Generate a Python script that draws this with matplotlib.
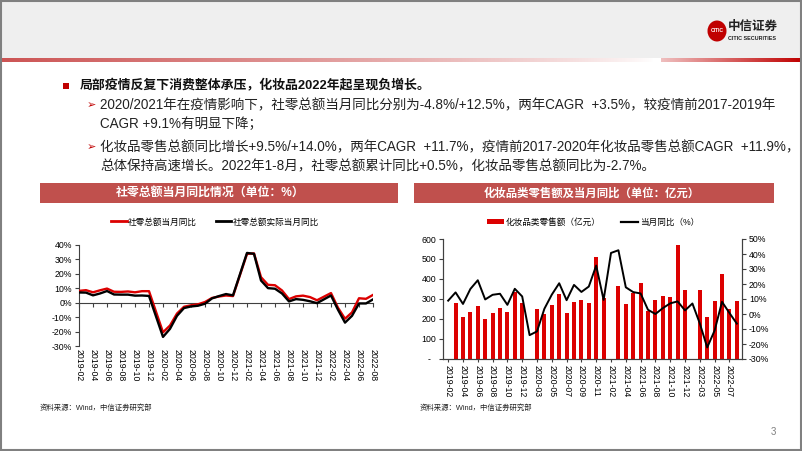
import matplotlib
matplotlib.use('Agg')
import matplotlib.pyplot as plt
import matplotlib.transforms as mtrans
from matplotlib.patches import Rectangle, Ellipse, Patch
from matplotlib.lines import Line2D
import numpy as np

W, H = 802, 451
FAM = ['Liberation Sans', 'Noto Sans CJK SC', 'DejaVu Sans']
plt.rcParams['font.family'] = FAM

# ---------------- data ----------------
months = ['2019-02', '2019-03', '2019-04', '2019-05', '2019-06', '2019-07', '2019-08', '2019-09', '2019-10', '2019-11', '2019-12',
          '2020-02', '2020-03', '2020-04', '2020-05', '2020-06', '2020-07', '2020-08', '2020-09', '2020-10', '2020-11', '2020-12',
          '2021-02', '2021-03', '2021-04', '2021-05', '2021-06', '2021-07', '2021-08', '2021-09', '2021-10', '2021-11', '2021-12',
          '2022-02', '2022-03', '2022-04', '2022-05', '2022-06', '2022-07', '2022-08']

retail_nominal = [8.2, 8.7, 7.2, 8.6, 9.8, 7.6, 7.5, 7.8, 7.2, 8.0, 8.0,
                  -20.5, -15.8, -7.5, -2.8, -1.8, -1.1, 0.5, 3.3, 4.3, 5.0, 4.6,
                  33.8, 34.2, 17.7, 12.4, 12.1, 8.5, 2.5, 4.4, 4.9, 3.9, 1.7,
                  6.7, -3.5, -11.1, -6.7, 3.1, 2.7, 5.4]
retail_real = [7.1, 7.0, 5.1, 6.4, 8.1, 5.7, 5.6, 5.6, 4.9, 5.0, 4.7,
               -23.7, -18.1, -9.1, -3.7, -2.6, -2.1, -0.7, 3.0, 4.6, 6.0, 5.1,
               34.5, 33.9, 15.4, 10.1, 9.7, 6.4, 0.9, 2.5, 2.0, 1.0, -0.3,
               5.0, -4.9, -13.8, -9.1, -0.5, -0.5, 2.3]

left_tick_labels = ['2019-02', '2019-04', '2019-06', '2019-08', '2019-10', '2019-12',
                    '2020-02', '2020-04', '2020-06', '2020-08', '2020-10', '2020-12',
                    '2021-02', '2021-04', '2021-06', '2021-08', '2021-10', '2021-12',
                    '2022-02', '2022-04', '2022-06', '2022-08']

cosmetics_sales = [None, 280, 210, 233, 265, 200, 232, 255, 233, 333, 280,
                   None, 250, 223, 270, 327, 230, 285, 296, 280, 510, 303,
                   None, 367, 275, 328, 380, 240, 293, 316, 310, 570, 343,
                   None, 345, 211, 290, 423, 252, 290]
cosmetics_yoy = [8.9, 14.4, 6.7, 16.7, 22.5, 9.7, 12.8, 13.5, 6.1, 16.8, 11.7,
                 -14.1, -11.6, 3.5, 12.9, 20.5, 9.2, 19.4, 14.7, 18.3, 32.3, 9.4,
                 40.7, 42.5, 17.8, 14.6, 13.7, 2.8, 0.0, 3.9, 7.1, 8.4, 2.4,
                 7.0, -6.3, -22.3, -11.0, 8.1, 0.7, -6.4]

RED = '#DC0000'
BAND = '#C0504D'
AXC = '#404040'

fig = plt.figure(figsize=(W / 100, H / 100), dpi=100)


def fx(x):
    return x / W


def fy(y):
    return 1 - y / H


# ---------------- slide decoration ----------------
fig.add_artist(Rectangle((0, fy(58)), 1, 58 / H, transform=fig.transFigure,
                         facecolor='#EFEFEF', edgecolor='none', zorder=0))
# gradient rule
gax = fig.add_axes([0, fy(62), 1, 4 / H])
gx = np.linspace(0, 1, 802)
left_c = np.array([0.80, 0.33, 0.33])
right_c = np.array([0.75, 0.0, 0.0])
img = np.ones((1, 802, 3))
for i, t in enumerate(gx):
    if t < 0.815:
        a = (1 - t / 0.815) ** 0.8
        img[0, i] = 1 - a * (1 - left_c)
    elif t < 0.825:
        img[0, i] = [1, 1, 1]
    else:
        a = (t - 0.825) / 0.175
        img[0, i] = 1 - (0.25 + 0.75 * a) * (1 - right_c)
gax.imshow(img, aspect='auto', extent=(0, 1, 0, 1))
gax.axis('off')

# border
fig.add_artist(Rectangle((0.001, 0.002), 0.998, 0.996, transform=fig.transFigure,
                         fill=False, edgecolor='#808080', lw=1.5, zorder=10))

# logo
fig.add_artist(Ellipse((fx(717), fy(31)), 19 / W, 21 / H, transform=fig.transFigure,
                       facecolor='#C00000', edgecolor='none'))
fig.text(fx(717), fy(31), 'CITIC', color='white', fontsize=3.6, ha='center', va='center',
         fontweight='bold')
fig.text(fx(728), fy(27), '中信证券', fontsize=9, fontweight='bold', ha='left', va='center',
         color='#222222')
fig.text(fx(728), fy(38), 'CITIC SECURITIES', fontsize=3.9, fontweight='bold', ha='left',
         va='center', color='#222222')

# heading bullets
fig.add_artist(Rectangle((fx(63), fy(89)), 6 / W, 6 / H, transform=fig.transFigure,
                         facecolor='#C00000', edgecolor='none'))
fig.text(fx(80), fy(86), '局部疫情反复下消费整体承压，化妆品2022年起呈现负增长。',
         fontsize=9.3, fontweight='bold', va='center', ha='left', color='#111111')

bullet_lines = [
    (105, True, '2020/2021年在疫情影响下，社零总额当月同比分别为-4.8%/+12.5%，两年CAGR  +3.5%，较疫情前2017-2019年'),
    (124, False, 'CAGR +9.1%有明显下降；'),
    (147, True, '化妆品零售总额同比增长+9.5%/+14.0%，两年CAGR  +11.7%，疫情前2017-2020年化妆品零售总额CAGR  +11.9%，'),
    (166, False, '总体保持高速增长。2022年1-8月，社零总额累计同比+0.5%，化妆品零售总额同比为-2.7%。'),
]
for yy, arrow, txt in bullet_lines:
    if arrow:
        fig.text(fx(87), fy(yy), '➢', fontsize=8, color='#C00000', va='center', ha='left',
                 family=['DejaVu Sans'])
    fig.text(fx(100), fy(yy), txt, fontsize=9.75, va='center', ha='left', color='#222222')

# chart title bands
fig.add_artist(Rectangle((fx(40), fy(203)), (398 - 40) / W, 20 / H, transform=fig.transFigure,
                         facecolor=BAND, edgecolor='none'))
fig.text(fx(210), fy(193), '社零总额当月同比情况（单位：%）', color='white', fontsize=8.6,
         fontweight='bold', ha='center', va='center')
fig.add_artist(Rectangle((fx(414), fy(203)), (774 - 414) / W, 20 / H, transform=fig.transFigure,
                         facecolor=BAND, edgecolor='none'))
fig.text(fx(592), fy(193), '化妆品类零售额及当月同比（单位：亿元）', color='white', fontsize=8.2,
         fontweight='bold', ha='center', va='center')

# ---------------- left chart ----------------
x_left = [(int(m[:4]) - 2019) * 12 + int(m[5:]) - 2 for m in months]
ax1 = fig.add_axes([fx(79), fy(346), (373 - 79) / W, (346 - 245) / H])
ax1.plot(x_left, retail_nominal, color=RED, lw=1.7, zorder=3, label='社零总额当月同比')
ax1.plot(x_left, retail_real, color='black', lw=1.7, zorder=4, label='社零总额实际当月同比')
ax1.set_xlim(0, 42)
ax1.set_ylim(-30, 40)
ax1.spines['top'].set_visible(False)
ax1.spines['right'].set_visible(False)
ax1.spines['bottom'].set_position(('data', 0))
for s in ('left', 'bottom'):
    ax1.spines[s].set_color(AXC)
    ax1.spines[s].set_linewidth(0.8)
ax1.set_yticks(range(-30, 41, 10))
ax1.set_yticklabels([f'{v}%' for v in range(-30, 41, 10)])
ax1.set_xticks(range(0, 43, 2))
ax1.tick_params(axis='x', labelbottom=False, length=3, width=0.8, color=AXC, direction='out')
ax1.tick_params(axis='y', labelsize=6.3, length=3, width=0.8, color=AXC, pad=2)
tr = mtrans.blended_transform_factory(ax1.transData, ax1.transAxes)
for pos, lab in zip(range(0, 43, 2), left_tick_labels):
    ax1.text(pos, -0.03, lab, transform=tr, rotation=-90, ha='center', va='top', fontsize=6.3)
ax1.legend(handles=[Line2D([], [], color=RED, lw=2), Line2D([], [], color='black', lw=2)],
           labels=['社零总额当月同比', '社零总额实际当月同比'],
           loc='center', bbox_to_anchor=(fx(215), fy(222)), bbox_transform=fig.transFigure,
           ncol=2, frameon=False, fontsize=6.2, handlelength=1.8, handletextpad=0.15,
           columnspacing=2.2)

# ---------------- right chart ----------------
ax2 = fig.add_axes([fx(443), fy(359), (742 - 443) / W, (359 - 239) / H])
bx = [i for i, v in enumerate(cosmetics_sales) if v is not None]
bv = [v for v in cosmetics_sales if v is not None]
ax2.bar(bx, bv, width=0.55, color=RED, zorder=2)
ax2.set_xlim(-0.7, 39.7)
ax2.set_ylim(0, 600)
ax2.set_yticks(range(0, 601, 100))
ax2.set_yticklabels(['-  '] + [str(v) for v in range(100, 601, 100)])
ax2.set_xticks(range(0, 40, 2))
ax2.set_xticklabels(months[::2], rotation=-90, fontsize=6.3)
ax2.tick_params(axis='x', length=2, width=0.8, color=AXC, pad=2)
ax2.tick_params(axis='y', labelsize=6.3, length=3, width=0.8, color=AXC, pad=2)
ax2b = ax2.twinx()
ax2b.plot(range(len(cosmetics_yoy)), cosmetics_yoy, color='black', lw=1.4, zorder=3)
ax2b.set_ylim(-30, 50)
ax2b.set_yticks(range(-30, 51, 10))
ax2b.set_yticklabels([f'{v}%' for v in range(-30, 51, 10)])
ax2b.tick_params(axis='y', labelsize=6.3, length=3, width=0.8, color=AXC, pad=2)
for a in (ax2, ax2b):
    a.spines['top'].set_visible(False)
    for s in ('left', 'right', 'bottom'):
        a.spines[s].set_color(AXC)
        a.spines[s].set_linewidth(0.8)
ax2b.legend(handles=[Patch(facecolor=RED), Line2D([], [], color='black', lw=1.6)],
            labels=['化妆品类零售额（亿元）', '当月同比（%）'],
            loc='center', bbox_to_anchor=(fx(593), fy(222)), bbox_transform=fig.transFigure,
            ncol=2, frameon=False, fontsize=6.2, handlelength=2.0, handleheight=0.6,
            handletextpad=0.2, columnspacing=2.4)

# sources & page number
fig.text(fx(40), fy(408), '资料来源：Wind，中信证券研究部', fontsize=5.3, ha='left', va='center',
         color='#222222')
fig.text(fx(420), fy(408), '资料来源：Wind，中信证券研究部', fontsize=5.3, ha='left', va='center',
         color='#222222')
fig.text(fx(773), fy(432), '3', fontsize=7, ha='center', va='center', color='#7F7F7F')

fig.savefig('out.png', dpi=100)
